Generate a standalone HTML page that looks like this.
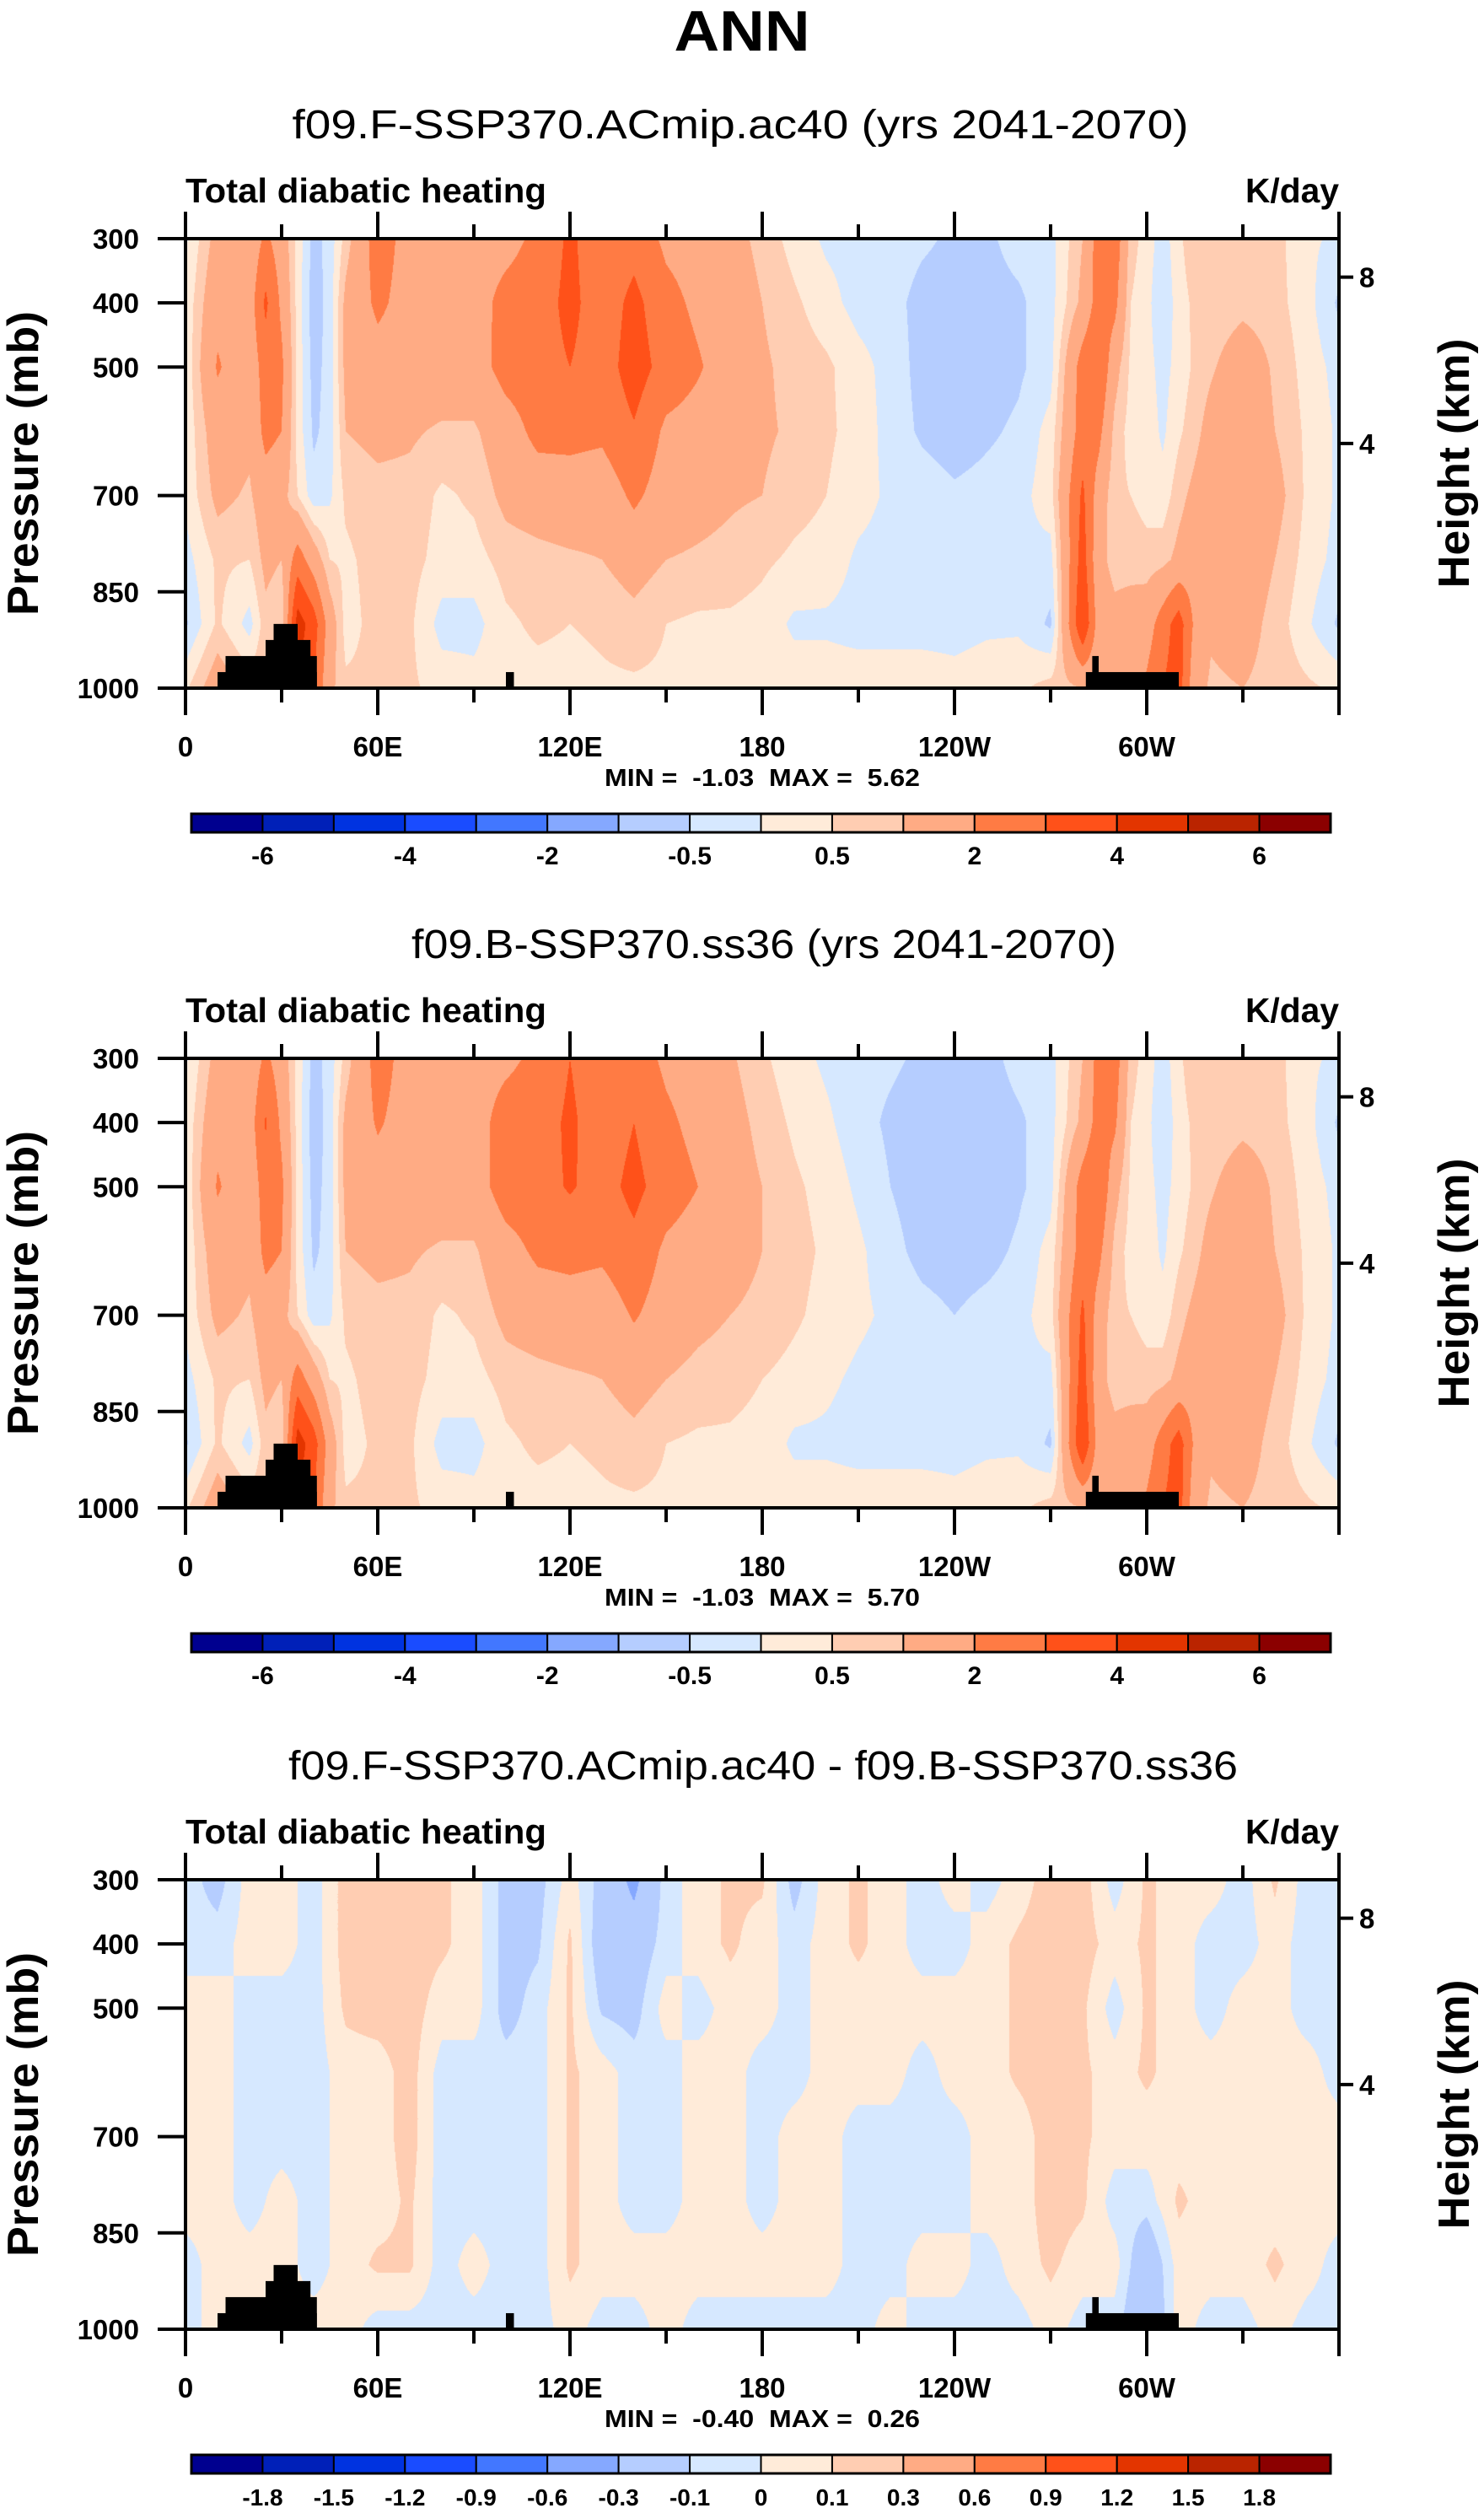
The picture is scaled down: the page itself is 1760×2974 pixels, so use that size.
<!DOCTYPE html>
<html><head><meta charset="utf-8">
<style>
html,body{margin:0;padding:0;background:#fff;}
#wrap{position:relative;width:1760px;height:2974px;overflow:hidden;background:#fff;}
canvas{position:absolute;}
svg{position:absolute;left:0;top:0;}
text{font-family:"Liberation Sans",Arial,sans-serif;}
</style></head>
<body>
<div id="wrap">
<canvas id="c1" width="1368" height="533" style="left:220px;top:283px"></canvas>
<canvas id="c2" width="1368" height="533" style="left:220px;top:1255px"></canvas>
<canvas id="c3" width="1368" height="533" style="left:220px;top:2229px"></canvas>
<svg id="ov" width="1760" height="2974"></svg>
</div>
<script>
// ---------- data ----------
const levels = [300,400,500,600,700,800,900,1000];
const lonsA = [0,10,20,25,30,35,40,45,50,60,70,80,90,100,110,120,130,140,150,160,170,180,190,200,210,220,230,240,250,260,270,280,285,290,295,300,305,310,315,320,330,340,350,360];
const field1 = [
[-0.1,0.1,0.1,0.1,0.1,-0.2,-0.6,0.4],
[1.3,1.7,2.1,1.5,1.2,0.6,0.6,1.5],
[1.3,1.5,1.3,1.2,0.9,0.5,-0.2,0.8],
[2.2,3.2,2.5,2.3,1.5,1.2,0.8,1.0],
[1.5,1.8,2.2,2.0,1.3,1.0,0.5,1.0],
[0.3,0.3,0.3,0.3,0.5,2.5,4.5,4.0],
[-0.7,-0.8,-0.7,-0.6,-0.3,1.5,3.5,3.0],
[-0.3,-0.3,-0.3,-0.3,-0.1,0.5,1.5,1.2],
[0.7,1.2,1.2,1.0,0.6,0.4,0.3,0.6],
[2.5,2.2,1.6,1.2,0.8,0.7,0.7,0.6],
[1.6,1.6,1.5,1.1,0.8,0.7,0.6,0.6],
[1.6,1.6,1.5,0.9,0.4,0.3,-0.2,0.3],
[1.6,1.6,1.5,0.9,0.6,0.3,-0.2,0.2],
[1.7,2.3,2.4,1.5,1.2,0.7,0.4,0.3],
[2.2,2.5,2.6,2.3,1.4,0.8,0.6,0.3],
[3.2,3.3,3.0,2.3,1.5,0.9,0.5,0.3],
[2.3,2.4,2.5,2.2,1.4,1.0,0.6,0.4],
[2.6,3.3,3.5,2.9,2.2,1.3,0.8,0.4],
[1.8,2.3,2.6,1.8,1.5,1.0,0.5,0.4],
[1.6,1.8,2.1,1.6,1.3,0.9,0.4,0.3],
[1.3,1.5,1.5,1.3,1.1,0.8,0.4,0.3],
[0.8,1.0,1.1,1.1,1.0,0.6,0.3,0.3],
[0.3,0.6,0.8,0.9,0.7,0.4,-0.1,0.3],
[-0.1,0.2,0.6,0.6,0.5,0.3,-0.1,0.3],
[-0.2,-0.2,0.2,0.3,0.2,-0.1,-0.2,0.3],
[-0.2,-0.3,-0.2,-0.2,-0.1,-0.2,-0.2,0.3],
[-0.4,-0.7,-0.7,-0.6,-0.2,-0.2,-0.2,0.3],
[-0.6,-0.8,-0.8,-0.8,-0.4,-0.3,-0.2,0.2],
[-0.6,-0.7,-0.8,-0.6,-0.3,-0.2,-0.1,0.3],
[-0.3,-0.6,-0.6,-0.4,-0.2,-0.1,-0.1,0.4],
[-0.2,-0.2,-0.2,0.2,0.3,-0.2,-0.6,0.7],
[1.0,1.2,2.5,2.5,3.2,3.5,4.0,1.0],
[2.5,2.5,3.0,2.3,1.5,1.2,1.5,1.2],
[2.7,2.3,1.3,0.8,0.6,0.8,1.2,1.2],
[0.7,0.5,0.4,0.3,0.5,0.8,1.3,1.5],
[0.3,0.2,0.2,0.3,0.3,0.7,1.5,2.2],
[-0.3,-0.5,-0.2,-0.1,0.2,0.8,2.5,3.0],
[0.4,0.3,0.2,0.4,0.8,1.2,3.5,3.5],
[0.8,0.6,0.6,0.8,1.2,1.5,1.8,1.3],
[0.6,0.6,0.9,1.3,1.5,1.3,1.1,0.9],
[0.7,0.8,1.5,1.6,1.8,1.5,1.3,1.0],
[0.7,0.7,0.9,1.0,1.3,1.0,0.8,0.8],
[0.1,0.2,0.3,0.4,0.4,0.3,0.1,0.6],
[-0.1,-0.6,-0.2,-0.1,-0.1,-0.2,-0.6,0.4]
];
const field2 = [
[-0.1,0.1,0.1,0.1,0.1,-0.2,-0.6,0.4],
[1.3,1.7,2.1,1.5,1.2,0.6,0.6,1.5],
[1.3,1.5,1.3,1.2,0.9,0.5,-0.2,0.8],
[2.2,3.1,2.5,2.3,1.5,1.2,0.8,1.0],
[1.5,1.8,2.2,2.0,1.3,1.0,0.5,1.0],
[0.3,0.3,0.3,0.3,0.5,2.5,4.5,4.0],
[-0.7,-0.8,-0.7,-0.6,-0.3,1.5,3.5,3.0],
[-0.3,-0.3,-0.3,-0.3,-0.1,0.5,1.5,1.2],
[0.7,1.2,1.2,1.0,0.6,0.4,0.3,0.6],
[2.4,2.1,1.6,1.2,0.8,0.7,0.6,0.6],
[1.6,1.6,1.5,1.1,0.8,0.7,0.6,0.6],
[1.6,1.6,1.5,0.9,0.4,0.3,-0.2,0.3],
[1.6,1.6,1.5,0.9,0.6,0.3,-0.2,0.2],
[1.8,2.4,2.5,1.6,1.2,0.7,0.4,0.3],
[2.2,2.5,2.6,2.2,1.4,0.8,0.6,0.3],
[3.0,3.2,3.1,2.3,1.5,0.9,0.5,0.3],
[2.3,2.4,2.6,2.2,1.4,1.0,0.6,0.4],
[2.5,3.0,3.3,2.7,2.1,1.3,0.8,0.4],
[1.8,2.2,2.5,1.8,1.5,1.0,0.5,0.4],
[1.5,1.7,2.0,1.5,1.2,0.8,0.4,0.3],
[1.1,1.3,1.4,1.2,1.0,0.7,0.4,0.3],
[0.6,0.8,1.0,1.0,0.9,0.5,0.3,0.3],
[0.2,0.4,0.6,0.7,0.6,0.3,-0.1,0.3],
[-0.1,0.1,0.3,0.4,0.3,0.1,-0.1,0.3],
[-0.3,-0.3,-0.1,0.1,0.1,-0.1,-0.2,0.3],
[-0.4,-0.6,-0.5,-0.3,-0.1,-0.2,-0.2,0.3],
[-0.6,-0.8,-0.8,-0.7,-0.3,-0.2,-0.2,0.3],
[-0.7,-0.9,-0.9,-0.8,-0.5,-0.3,-0.2,0.2],
[-0.7,-0.8,-0.9,-0.7,-0.3,-0.2,-0.1,0.3],
[-0.3,-0.6,-0.6,-0.4,-0.2,-0.1,-0.1,0.4],
[-0.2,-0.2,-0.2,0.2,0.3,-0.2,-0.6,0.7],
[1.0,1.2,2.5,2.5,3.2,3.5,4.0,1.0],
[2.4,2.5,3.0,2.3,1.5,1.2,1.5,1.2],
[2.6,2.2,1.3,0.8,0.6,0.8,1.2,1.2],
[0.7,0.5,0.4,0.3,0.5,0.8,1.3,1.5],
[0.3,0.2,0.2,0.3,0.3,0.7,1.5,2.2],
[-0.3,-0.5,-0.2,-0.1,0.2,0.8,2.5,3.0],
[0.4,0.3,0.2,0.4,0.8,1.2,3.5,3.5],
[0.8,0.6,0.6,0.8,1.2,1.5,1.8,1.3],
[0.6,0.6,0.9,1.3,1.5,1.3,1.1,0.9],
[0.7,0.8,1.5,1.6,1.8,1.5,1.3,1.0],
[0.7,0.7,0.9,1.0,1.3,1.0,0.8,0.8],
[0.1,0.2,0.3,0.4,0.4,0.3,0.1,0.6],
[-0.1,-0.6,-0.2,-0.1,-0.1,-0.2,-0.6,0.4]
];
const lonsB = [0,10,20,30,40,50,60,70,80,90,100,110,120,130,140,150,160,170,180,190,200,210,220,230,240,250,260,270,280,290,300,310,320,330,340,350,360];
const field3 = [
[-0.05,-0.05,0.05,0.05,0.05,0.05,-0.05,-0.05],
[-0.15,-0.05,0.05,0.05,0.05,0.05,0.05,0.05],
[0.05,0.05,-0.05,-0.05,-0.05,-0.05,0.05,-0.05],
[0.05,0.05,-0.05,-0.05,-0.05,0.05,0.05,0.05],
[-0.05,-0.05,-0.05,-0.05,-0.05,-0.05,-0.05,0.05],
[0.15,0.15,0.12,0.05,0.05,0.05,0.05,0.05],
[0.15,0.15,0.15,0.05,0.05,0.05,0.12,-0.05],
[0.15,0.15,0.15,0.15,0.15,0.12,0.12,-0.05],
[0.12,0.12,0.05,-0.05,-0.05,-0.05,-0.05,-0.05],
[0.05,0.05,0.05,-0.05,-0.05,-0.05,0.05,-0.05],
[-0.15,-0.15,-0.15,-0.05,-0.05,-0.05,-0.05,-0.05],
[-0.15,-0.12,-0.05,-0.05,-0.05,-0.05,-0.05,-0.05],
[0.05,0.12,0.12,0.12,0.12,0.12,0.12,0.05],
[-0.15,-0.2,-0.12,0.05,0.05,0.05,0.05,-0.05],
[-0.35,-0.2,-0.15,-0.05,-0.05,-0.05,0.05,-0.05],
[-0.05,-0.05,0.05,-0.05,-0.05,-0.05,0.05,0.05],
[0.05,0.05,-0.05,0.05,0.05,0.05,0.05,-0.05],
[0.12,0.12,0.05,0.05,0.05,0.05,0.05,-0.05],
[0.12,0.05,0.05,-0.05,-0.05,-0.05,0.05,-0.05],
[-0.15,-0.05,-0.05,-0.05,0.05,0.05,0.05,-0.05],
[0.05,0.05,0.05,0.05,0.05,0.05,0.05,-0.05],
[0.12,0.12,0.05,0.05,-0.05,-0.05,-0.05,-0.05],
[0.05,0.05,0.05,0.05,-0.05,-0.05,-0.05,0.05],
[-0.05,-0.05,0.05,-0.05,-0.05,-0.05,0.05,-0.05],
[0.05,-0.05,0.05,0.05,-0.05,-0.05,0.05,-0.05],
[-0.05,0.05,0.05,0.05,0.05,0.05,-0.05,-0.05],
[0.05,0.12,0.12,0.12,0.05,0.05,0.05,-0.05],
[0.15,0.15,0.15,0.15,0.15,0.15,0.12,0.05],
[0.15,0.15,0.12,0.12,0.12,0.12,0.05,-0.05],
[-0.05,0.05,-0.05,0.05,0.05,-0.05,0.05,-0.05],
[0.12,0.12,0.12,0.12,0.05,-0.05,-0.25,-0.3],
[0.05,0.05,0.05,0.05,0.05,0.12,0.05,0.05],
[0.05,-0.05,-0.05,0.05,0.05,0.05,0.05,-0.05],
[-0.05,-0.05,0.05,0.05,0.05,0.05,0.05,-0.05],
[0.12,0.05,0.05,0.05,0.05,0.05,0.12,0.05],
[-0.05,-0.05,-0.05,0.05,0.05,0.05,0.05,-0.05],
[-0.05,-0.05,-0.05,-0.05,0.05,0.05,-0.05,-0.05]
];
const contourLevels1 = [-6,-5,-4,-3,-2,-1,-0.5,0,0.5,1,2,3,4,5,6];
const contourLevels3 = [-1.8,-1.5,-1.2,-0.9,-0.6,-0.3,-0.1,0,0.1,0.3,0.6,0.9,1.2,1.5,1.8];
const cbLabels1 = ["-6","-4","-2","-0.5","0.5","2","4","6"];
const cbLabels3 = ["-1.8","-1.5","-1.2","-0.9","-0.6","-0.3","-0.1","0","0.1","0.3","0.6","0.9","1.2","1.5","1.8"];
const palette = ["#00008f","#0020b8","#0033e0","#1a4cff","#4277ff","#85a8ff","#b5cdff","#d6e8ff","#ffebd9","#ffcdb2","#ffab84","#ff7b44","#ff5119","#e33500","#ba2400","#8b0000"];
const topoLon0 = [10,12.5,25,27.5,100,281,283];
const topoLon1 = [41,41,39,35,102.5,310,285];
const topoTop  = [975,950,925,900,975,975,950];
const xTickLons = [0,60,120,180,240,300];
const xTickLabels = ["0","60E","120E","180","120W","60W"];
const yTickP = [300,400,500,700,850,1000];
const heightKm = [8,4];
const heightP = [360,619];
const subtitles = ["f09.F-SSP370.ACmip.ac40 (yrs 2041-2070)","f09.B-SSP370.ss36 (yrs 2041-2070)","f09.F-SSP370.ACmip.ac40 - f09.B-SSP370.ss36"];
const subtitleLen = [1063,836,1126];
const subtitleX = [878,906,905];
const minVals = ["-1.03","-1.03","-0.40"];
const maxVals = ["5.62","5.70","0.26"];

// ---------- geometry ----------
const PX0=220, PX1=1588, PH=533;
const panelTop=[283,1255,2229];
const xOf = lon => PX0 + (lon/360)*(PX1-PX0);
const yOf = (p,t) => t + ((p-300)/700)*PH;

function hex(c){return [parseInt(c.substr(1,2),16),parseInt(c.substr(3,2),16),parseInt(c.substr(5,2),16)];}
const palRGB = palette.map(hex);

function sample(lons, fld, lon, p){
  let i=0; while(i<lons.length-2 && lon>lons[i+1]) i++;
  const tx=(lon-lons[i])/(lons[i+1]-lons[i]);
  let fj=(p-300)/100; let j=Math.min(Math.floor(fj),levels.length-2); const ty=fj-j;
  const a=fld[i][j], b=fld[i+1][j], c=fld[i][j+1], d=fld[i+1][j+1];
  return (a*(1-tx)+b*tx)*(1-ty)+(c*(1-tx)+d*tx)*ty;
}
function drawField(id, lons, fld, lev){
  const cv=document.getElementById(id), ctx=cv.getContext('2d');
  const W=cv.width,H=cv.height, img=ctx.createImageData(W,H);
  for(let y=0;y<H;y++){
    const p=300+700*(y+0.5)/H;
    for(let x=0;x<W;x++){
      const lon=360*(x+0.5)/W;
      const v=sample(lons,fld,lon,p);
      let k=0; while(k<lev.length && v>=lev[k]) k++;
      const c=palRGB[k]; const o=(y*W+x)*4;
      img.data[o]=c[0];img.data[o+1]=c[1];img.data[o+2]=c[2];img.data[o+3]=255;
    }
  }
  ctx.putImageData(img,0,0);
}
drawField('c1',lonsA,field1,contourLevels1);
drawField('c2',lonsA,field2,contourLevels1);
drawField('c3',lonsB,field3,contourLevels3);

// ---------- overlay ----------
const NS="http://www.w3.org/2000/svg";
const svg=document.getElementById('ov');
function el(tag,attrs,parent,txt){
  const e=document.createElementNS(NS,tag);
  for(const k in attrs) e.setAttribute(k,attrs[k]);
  if(txt!==undefined) e.textContent=txt;
  (parent||svg).appendChild(e); return e;
}
const FIT='spacingAndGlyphs';
let t0=el('text',{x:880,y:60,'text-anchor':'middle','font-size':68,'font-weight':'bold',textLength:161,lengthAdjust:FIT},svg,'ANN');



for(let pi=0;pi<3;pi++){
  const T=panelTop[pi], B=T+PH, dy=T-283;
  const g=el('g',{});
  
  
  let s=el('text',{x:subtitleX[pi],y:164+dy,'text-anchor':'middle','font-size':48,textLength:subtitleLen[pi],lengthAdjust:FIT},g,subtitles[pi]);
  
  
  let lt=el('text',{x:220,y:240+dy,'font-size':41,'font-weight':'bold',textLength:428,lengthAdjust:FIT},g,'Total diabatic heating');
  
  
  let rt=el('text',{x:1477,y:240+dy,'font-size':41,'font-weight':'bold',textLength:111,lengthAdjust:FIT},g,'K/day');
  
  
  for(let k=0;k<topoLon0.length;k++){
    const r=el('rect',{x:xOf(topoLon0[k]),y:yOf(topoTop[k],T),width:xOf(topoLon1[k])-xOf(topoLon0[k]),height:B-yOf(topoTop[k],T),fill:'#000'},g);
    
    
  }
  const fr=el('rect',{x:PX0,y:T,width:PX1-PX0,height:PH,fill:'none',stroke:'#000','stroke-width':4},g);
  
  
  for(let lon=0;lon<=360;lon+=30){
    const major=lon%60===0, L=major?32:17, x=xOf(lon);
    el('line',{x1:x,y1:T,x2:x,y2:T-L,stroke:'#000','stroke-width':4},g);
    el('line',{x1:x,y1:B,x2:x,y2:B+L,stroke:'#000','stroke-width':4},g);
  }
  xTickLons.forEach((lon,i)=>{
    const tx=el('text',{x:xOf(lon),y:897+dy,'text-anchor':'middle','font-size':33,'font-weight':'bold'},g,xTickLabels[i]);
    
    
  });
  yTickP.forEach(p=>{
    const y=yOf(p,T);
    el('line',{x1:PX0,y1:y,x2:PX0-33,y2:y,stroke:'#000','stroke-width':4},g);
    const ty=el('text',{x:165,y:y+12,'text-anchor':'end','font-size':33,'font-weight':'bold'},g,String(p));
    
    
  });
  heightP.forEach((p,i)=>{
    const y=yOf(p,T);
    el('line',{x1:PX1,y1:y,x2:PX1+17,y2:y,stroke:'#000','stroke-width':4},g);
    const th=el('text',{x:1612,y:y+12,'font-size':33,'font-weight':'bold'},g,String(heightKm[i]));
    
    
  });
  const yt=el('text',{x:0,y:0,'text-anchor':'middle','font-size':52,'font-weight':'bold',textLength:361,lengthAdjust:FIT,transform:`translate(45,${(T+B)/2}) rotate(-90)`},g,'Pressure (mb)');
  
  
  const ht=el('text',{x:0,y:0,'text-anchor':'middle','font-size':52,'font-weight':'bold',textLength:296,lengthAdjust:FIT,transform:`translate(1742,${(T+B)/2}) rotate(-90)`},g,'Height (km)');
  
  
  const mm=el('text',{x:904,y:932+dy,'text-anchor':'middle','font-size':29,'font-weight':'bold',textLength:374,lengthAdjust:FIT},g,'MIN =\u00a0\u00a0'+minVals[pi]+'\u00a0\u00a0MAX =\u00a0\u00a0'+maxVals[pi]);
  
  
  const cb=el('g',{},g);
  
  
  const cx0=227,cx1=1578,cy=965+dy,ch=22,bw=(cx1-cx0)/16;
  palette.forEach((c,k)=>{
    const r=el('rect',{x:cx0+k*bw,y:cy,width:bw,height:ch,fill:c,stroke:'#000','stroke-width':2},cb);
    
    
  });
  el('rect',{x:cx0,y:cy,width:cx1-cx0,height:ch,fill:'none',stroke:'#000','stroke-width':3},cb);
  if(pi<2){
    cbLabels1.forEach((lab,k)=>{
      const t=el('text',{x:cx0+(2*k+1)*bw,y:cy+60,'text-anchor':'middle','font-size':30,'font-weight':'bold'},cb,lab);
      
      
    });
  } else {
    cbLabels3.forEach((lab,k)=>{
      const t=el('text',{x:cx0+(k+1)*bw,y:cy+60,'text-anchor':'middle','font-size':28,'font-weight':'bold'},cb,lab);
      
      
    });
  }
}
</script>
</body></html>
